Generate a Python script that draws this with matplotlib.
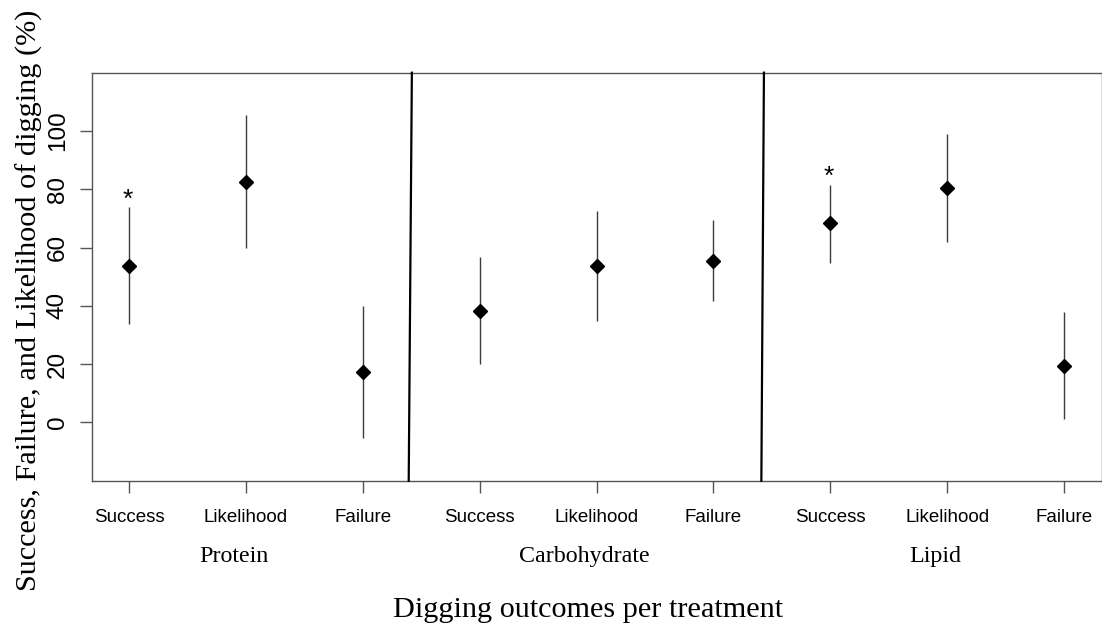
import matplotlib
matplotlib.use("Agg")
import matplotlib.pyplot as plt
import matplotlib.transforms as mtransforms

# Digging outcomes (%) with confidence limits, per dietary treatment
treatments = ["Protein", "Carbohydrate", "Lipid"]
outcomes = ["Success", "Likelihood", "Failure"]
means = [53.7, 82.5, 17.3, 38.4, 53.7, 55.5, 68.3, 80.5, 19.5]
upper = [73.8, 105.4, 40.0, 56.6, 72.5, 69.4, 81.6, 98.9, 37.8]
lower = [33.7, 59.9, -5.4, 20.1, 34.8, 41.6, 54.8, 62.0, 1.2]
significant = [True, False, False, False, False, False, True, False, False]
y_ticks = [0, 20, 40, 60, 80, 100]

SANS = "Liberation Sans"
SERIF = "Liberation Serif"
W, H, DPI = 1102, 631, 100

fig = plt.figure(figsize=(W / DPI, H / DPI), dpi=DPI)
ax = fig.add_axes([91.6 / W, 150.3 / H, (1101.5 - 91.6) / W, (480.7 - 72.7) / H])

x = list(range(1, len(means) + 1))
tick_labels = outcomes * len(treatments)

# confidence intervals and means
ax.vlines(x, lower, upper, color="#3a3a3a", lw=1.0, zorder=2)
ax.plot(x, means, linestyle="none", marker="D", ms=7.2, color="black", zorder=3)

# significance marks above the upper limit
for xi, up, sig in zip(x, upper, significant):
    if sig:
        ax.text(xi - 0.012, up + 0.3, "*", ha="center", va="baseline",
                fontsize=19, family=SANS, color="black")

# separators between treatments
for xb, xt in [(3.393, 3.42), (6.41, 6.432)]:
    ax.plot([xb, xt], [-20, 120], color="black", lw=1.6, zorder=4, clip_on=False)

ax.set_xlim(0.68, 9.32)
ax.set_ylim(-20, 120)

ax.set_xticks(x)
ax.set_xticklabels(tick_labels, family=SANS, fontsize=13.5)
ax.set_yticks(y_ticks)
ax.set_yticklabels([str(v) for v in y_ticks], family=SANS, fontsize=17.5,
                   rotation=90, va="center")
ax.tick_params(axis="x", length=8.6, width=1.0, color="#555555", pad=11.9)
ax.tick_params(axis="y", length=8.6, width=1.0, color="#555555", pad=7.9)

for sp in ax.spines.values():
    sp.set_color("#555555")
    sp.set_linewidth(1.0)

# treatment names under each group of ticks
trans = mtransforms.blended_transform_factory(ax.transData, ax.transAxes)
for i, name in enumerate(treatments):
    ax.text(3 * i + 2 - 0.105, -0.1985, name, transform=trans, ha="center",
            va="baseline", fontsize=17.3, family=SERIF, color="black")

fig.text(588 / W, (H - 617.3) / H, "Digging outcomes per treatment",
         ha="center", va="baseline", fontsize=21.8, family=SERIF)
fig.text(37 / W, (H - 300) / H, "Success, Failure, and Likelihood of digging (%)",
         ha="center", va="baseline", rotation=90, rotation_mode="anchor",
         fontsize=21.8, family=SERIF)

fig.savefig("out.png", dpi=DPI)
